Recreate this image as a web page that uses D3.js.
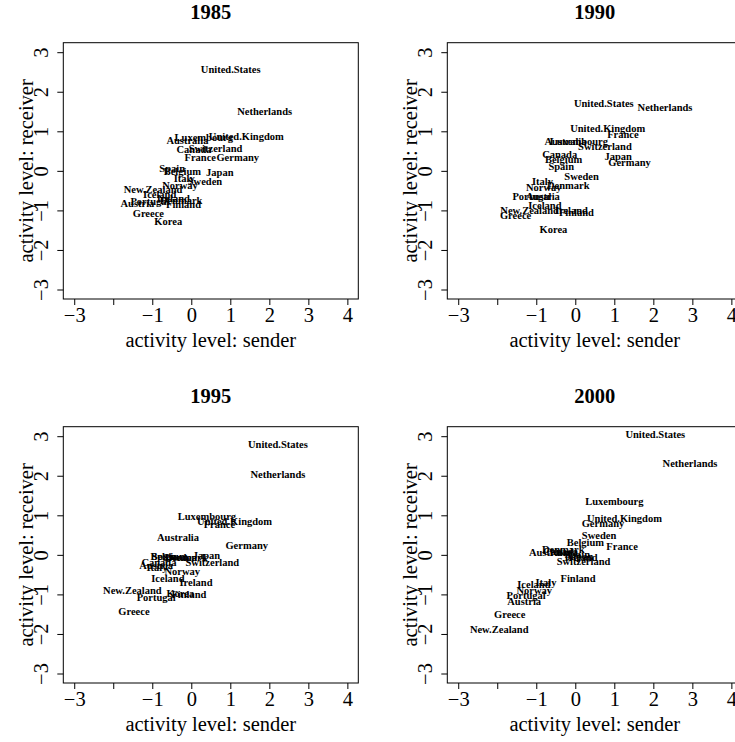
<!DOCTYPE html>
<html>
<head>
<meta charset="utf-8">
<script src="https://cdn.jsdelivr.net/npm/d3@7"></script>
<style>
  html, body { margin: 0; padding: 0; background: #fff; }
  svg text { font-family: "Liberation Serif", "Times New Roman", serif; fill: #000; }
</style>
</head>
<body>
<svg id="chart" width="735" height="742"></svg>
<script>
// Country order shared by every year
const countries = ["Australia", "Austria", "Belgium", "Canada", "Denmark", "Finland",
  "France", "Germany", "Greece", "Iceland", "Ireland", "Italy", "Japan", "Korea",
  "Luxembourg", "Netherlands", "New.Zealand", "Norway", "Portugal", "Spain",
  "Sweden", "Switzerland", "United.Kingdom", "United.States"];

const years = ["1985", "1990", "1995", "2000"];

// Sender / receiver activity levels, one value per country
const sender1985   = [-0.10, -1.38, -0.23, 0.07, -0.26, -0.20, 0.23, 1.19, -1.10, -0.81, -0.46, -0.18, 0.73, -0.59, 0.32, 1.88, -0.98, -0.29, -1.06, -0.49, 0.35, 0.62, 1.41, 1.01];
const receiver1985 = [0.76, -0.82, -0.02, 0.54, -0.76, -0.86, 0.33, 0.33, -1.08, -0.61, -0.70, -0.20, -0.04, -1.28, 0.83, 1.51, -0.48, -0.38, -0.78, 0.07, -0.28, 0.57, 0.87, 2.55];

const sender1990   = [-0.25, -0.83, -0.30, -0.40, -0.18, 0.03, 1.22, 1.39, -1.53, -0.78, -0.10, -0.84, 1.10, -0.56, 0.09, 2.30, -1.17, -0.81, -1.11, -0.36, 0.16, 0.76, 0.83, 0.73];
const receiver1990 = [0.73, -0.66, 0.28, 0.40, -0.37, -1.06, 0.92, 0.21, -1.13, -0.87, -1.01, -0.28, 0.37, -1.48, 0.73, 1.61, -1.01, -0.43, -0.66, 0.10, -0.14, 0.62, 1.08, 1.69];

const sender1995   = [-0.34, -0.90, -0.57, -0.83, -0.13, -0.06, 0.72, 1.42, -1.47, -0.60, 0.12, -0.88, 0.39, -0.28, 0.40, 2.22, -1.51, -0.23, -0.90, -0.69, -0.29, 0.54, 1.11, 2.22];
const receiver1995 = [0.45, -0.28, -0.03, -0.19, -0.08, -1.01, 0.76, 0.24, -1.43, -0.60, -0.69, -0.33, -0.02, -0.99, 0.96, 2.04, -0.90, -0.43, -1.09, -0.03, -0.08, -0.19, 0.84, 2.80];

const sender2000   = [-0.65, -1.31, 0.26, -0.38, -0.31, 0.07, 1.20, 0.71, -1.68, -1.06, 0.15, -0.75, 0.11, -0.30, 1.00, 2.94, -1.95, -1.05, -1.26, 0.05, 0.61, 0.21, 1.26, 2.05];
const receiver2000 = [0.06, -1.19, 0.30, 0.09, 0.13, -0.59, 0.22, 0.78, -1.50, -0.75, -0.08, -0.69, -0.05, 0.06, 1.34, 2.30, -1.90, -0.90, -1.02, 0.01, 0.48, -0.16, 0.93, 3.03];

const senders   = [sender1985, sender1990, sender1995, sender2000];
const receivers = [receiver1985, receiver1990, receiver1995, receiver2000];

// Axis ticks
const xTicks = [-3, -2, -1, 0, 1, 2, 3, 4];
const xTickLabels = ["−3", "", "−1", "0", "1", "2", "3", "4"];
const yTicks = [-3, -2, -1, 0, 1, 2, 3];
const yTickLabels = ["−3", "−2", "−1", "0", "1", "2", "3"];

const xTitle = "activity level: sender";
const yTitle = "activity level: receiver";

// Panel geometry (each panel is a 384px cell)
const cell = 384;
const box = { left: 63.3, right: 358.3, top: 42.7, bottom: 299 };
const axisFont = 20.5;
const labelFont = 10.5;

const svg = d3.select("#chart");

years.forEach((year, i) => {
  const col = i % 2, row = Math.floor(i / 2);
  const g = svg.append("g").attr("transform", `translate(${col * cell},${row * cell})`);

  // xlim c(-3,4), ylim c(-3,3) with 4% padding
  const x = d3.scaleLinear().domain([-3.28, 4.28]).range([box.left, box.right]);
  const y = d3.scaleLinear().domain([-3.24, 3.24]).range([box.bottom, box.top]);

  // Plot frame
  g.append("rect")
    .attr("x", box.left).attr("y", box.top)
    .attr("width", box.right - box.left).attr("height", box.bottom - box.top)
    .attr("fill", "none").attr("stroke", "#000").attr("stroke-width", 1);

  // X axis
  const xa = g.append("g")
    .attr("transform", `translate(0,${box.bottom})`)
    .call(d3.axisBottom(x).tickValues(xTicks)
      .tickFormat((d, k) => xTickLabels[k]).tickSize(6).tickSizeOuter(0));
  xa.select(".domain").remove();
  xa.selectAll("line").attr("stroke", "#000");
  xa.selectAll("text")
    .attr("y", 23).attr("dy", 0)
    .style("font-size", axisFont + "px")
    .style("font-family", "Liberation Serif, serif");

  // Y axis with rotated tick labels
  const ya = g.append("g")
    .attr("transform", `translate(${box.left},0)`)
    .call(d3.axisLeft(y).tickValues(yTicks)
      .tickFormat((d, k) => yTickLabels[k]).tickSize(6).tickSizeOuter(0));
  ya.select(".domain").remove();
  ya.selectAll("line").attr("stroke", "#000");
  ya.selectAll("text")
    .attr("x", 0).attr("y", -15.5).attr("dy", 0)
    .attr("text-anchor", "middle")
    .attr("transform", "rotate(-90)")
    .style("font-size", axisFont + "px")
    .style("font-family", "Liberation Serif, serif");

  // Panel title
  g.append("text")
    .attr("x", (box.left + box.right) / 2).attr("y", 18.5)
    .attr("text-anchor", "middle")
    .style("font-size", axisFont + "px").style("font-weight", "bold")
    .text(year);

  // Axis titles
  g.append("text")
    .attr("x", (box.left + box.right) / 2).attr("y", 347)
    .attr("text-anchor", "middle")
    .style("font-size", axisFont + "px")
    .text(xTitle);
  g.append("text")
    .attr("transform", `translate(32.5,${(box.top + box.bottom) / 2}) rotate(-90)`)
    .attr("text-anchor", "middle")
    .style("font-size", axisFont + "px")
    .text(yTitle);

  // Country labels placed at (sender, receiver)
  const pts = countries.map((c, k) => ({ name: c, sx: senders[i][k], ry: receivers[i][k] }));
  g.append("g").selectAll("text")
    .data(pts)
    .join("text")
    .attr("x", d => x(d.sx))
    .attr("y", d => y(d.ry))
    .attr("dy", "0.33em")
    .attr("text-anchor", "middle")
    .style("font-size", labelFont + "px")
    .style("font-weight", "bold")
    .text(d => d.name);
});
</script>
</body>
</html>
